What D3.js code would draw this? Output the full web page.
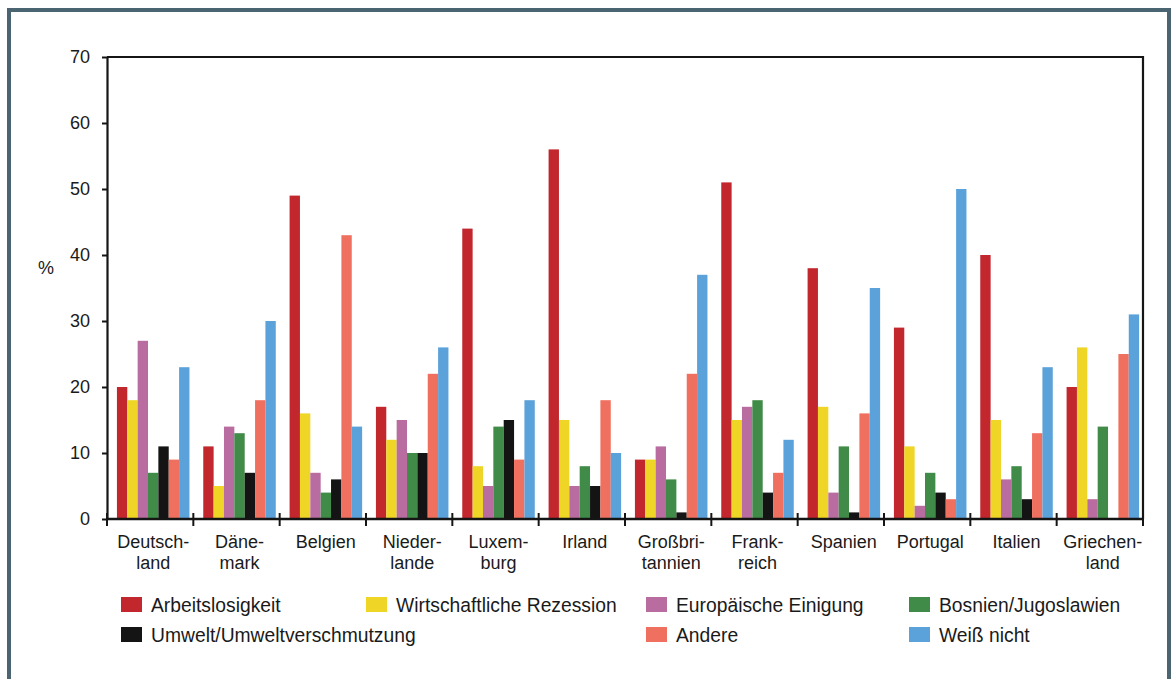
<!DOCTYPE html>
<html>
<head>
<meta charset="utf-8">
<script src="https://cdn.jsdelivr.net/npm/d3@7"></script>
<style>
  html, body { margin: 0; padding: 0; background: #ffffff; }
  svg { display: block; font-family: "Liberation Sans", Arial, Helvetica, sans-serif; }
</style>
</head>
<body>
<svg id="chart" width="1176" height="679"></svg>
<script>
// Countries (label lines split at the hyphenation points)
const countries = [
  ["Deutsch-", "land"], ["Däne-", "mark"], ["Belgien"], ["Nieder-", "lande"],
  ["Luxem-", "burg"], ["Irland"], ["Großbri-", "tannien"], ["Frank-", "reich"],
  ["Spanien"], ["Portugal"], ["Italien"], ["Griechen-", "land"]
];

const seriesNames = [
  "Arbeitslosigkeit", "Wirtschaftliche Rezession", "Europäische Einigung",
  "Bosnien/Jugoslawien", "Umwelt/Umweltverschmutzung", "Andere", "Weiß nicht"
];

const seriesColors = ["#c1272d", "#eed526", "#b96c9f", "#3f8b47", "#141414", "#f0705f", "#5ca2da"];

// Values in percent, one array per series, in country order
const arbeitslosigkeit = [20, 11, 49, 17, 44, 56, 9, 51, 38, 29, 40, 20];
const rezession        = [18, 5, 16, 12, 8, 15, 9, 15, 17, 11, 15, 26];
const einigung         = [27, 14, 7, 15, 5, 5, 11, 17, 4, 2, 6, 3];
const bosnien          = [7, 13, 4, 10, 14, 8, 6, 18, 11, 7, 8, 14];
const umwelt           = [11, 7, 6, 10, 15, 5, 1, 4, 1, 4, 3, 0];
const andere           = [9, 18, 43, 22, 9, 18, 22, 7, 16, 3, 13, 25];
const weissNicht       = [23, 30, 14, 26, 18, 10, 37, 12, 35, 50, 23, 31];

const seriesValues = [arbeitslosigkeit, rezession, einigung, bosnien, umwelt, andere, weissNicht];

const yTicks = [0, 10, 20, 30, 40, 50, 60, 70];

const svg = d3.select("#chart");

// Outer frame
svg.append("rect")
  .attr("x", 9).attr("y", 10)
  .attr("width", 1160).attr("height", 690)
  .attr("fill", "#ffffff")
  .attr("stroke", "#4a6472")
  .attr("stroke-width", 4);

const plot = { left: 107, right: 1143, top: 57, bottom: 519 };

const x = d3.scaleBand()
  .domain(d3.range(countries.length))
  .range([plot.left, plot.right])
  .paddingInner(0).paddingOuter(0);

const bw = x.bandwidth();
const inner = d3.scaleBand()
  .domain(d3.range(seriesNames.length))
  .range([bw * 0.115, bw * 0.955])
  .padding(0);

const y = d3.scaleLinear().domain([0, 70]).range([plot.bottom, plot.top]);

// Bars
const groups = svg.append("g").selectAll("g")
  .data(countries.map((c, i) => i))
  .join("g")
  .attr("transform", i => `translate(${x(i)},0)`);

groups.selectAll("rect")
  .data(i => seriesValues.map((vals, s) => ({ s, v: vals[i] })))
  .join("rect")
  .attr("x", d => inner(d.s))
  .attr("width", inner.bandwidth())
  .attr("y", d => y(d.v))
  .attr("height", d => y(0) - y(d.v))
  .attr("fill", d => seriesColors[d.s]);

// Plot frame (top and right sides)
svg.append("path")
  .attr("d", `M${plot.left},${plot.top}H${plot.right}V${plot.bottom}`)
  .attr("fill", "none")
  .attr("stroke", "#151515")
  .attr("stroke-width", 2.2);

// Y axis
const yAxis = d3.axisLeft(y).tickValues(yTicks).tickSize(5).tickPadding(12).tickSizeOuter(0);
const yg = svg.append("g")
  .attr("transform", `translate(${plot.left},0)`)
  .call(yAxis);
yg.select(".domain").attr("stroke", "#151515").attr("stroke-width", 2.2);
yg.selectAll(".tick line").attr("stroke", "#151515").attr("stroke-width", 2);
yg.selectAll(".tick text")
  .attr("font-size", 18)
  .attr("fill", "#1a1a1a")
  .attr("font-family", "Liberation Sans, Arial, sans-serif");

// X axis baseline with crossing ticks at category boundaries
svg.append("line")
  .attr("x1", plot.left).attr("x2", plot.right)
  .attr("y1", y(0)).attr("y2", y(0))
  .attr("stroke", "#151515").attr("stroke-width", 2.5);

const boundaries = d3.range(countries.length).map(i => x(i)).concat([plot.right]);
svg.append("g").selectAll("line")
  .data(boundaries)
  .join("line")
  .attr("x1", d => d).attr("x2", d => d)
  .attr("y1", y(0) - 6).attr("y2", y(0) + 7)
  .attr("stroke", "#151515").attr("stroke-width", 2);

// Category labels
const labels = svg.append("g").selectAll("text")
  .data(countries.map((c, i) => ({ c, i })))
  .join("text")
  .attr("text-anchor", "middle")
  .attr("font-size", 18)
  .attr("fill", "#1a1a1a");

labels.selectAll("tspan")
  .data(d => d.c.map((line, k) => ({ line, k, i: d.i })))
  .join("tspan")
  .attr("x", d => x(d.i) + inner(0) + (inner.bandwidth() * seriesNames.length) / 2)
  .attr("y", d => 548 + d.k * 21)
  .text(d => d.line);

// Axis title
svg.append("text")
  .attr("x", 46).attr("y", 274)
  .attr("text-anchor", "middle")
  .attr("font-size", 18)
  .attr("fill", "#1a1a1a")
  .text("%");

// Legend
const legendPos = [
  { tx: 151, ty: 605 }, { tx: 396, ty: 605 }, { tx: 676, ty: 605 }, { tx: 939, ty: 605 },
  { tx: 151, ty: 635 }, { tx: 676, ty: 635 }, { tx: 939, ty: 635 }
];

const legend = svg.append("g").selectAll("g")
  .data(seriesNames.map((n, s) => ({ n, s })))
  .join("g")
  .attr("transform", d => `translate(${legendPos[d.s].tx},${legendPos[d.s].ty})`);

legend.append("rect")
  .attr("x", -30).attr("y", -8)
  .attr("width", 21).attr("height", 15)
  .attr("fill", d => seriesColors[d.s]);

legend.append("text")
  .attr("x", 0).attr("y", 0)
  .attr("dy", "0.35em")
  .attr("font-size", 19.3)
  .attr("fill", "#1a1a1a")
  .text(d => d.n);
</script>
</body>
</html>
